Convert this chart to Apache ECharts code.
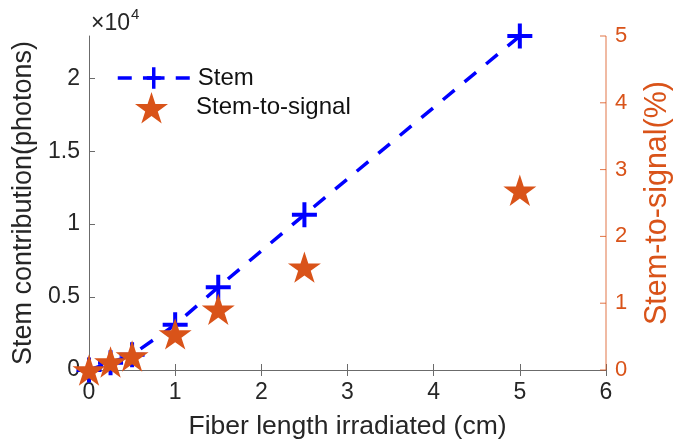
<!DOCTYPE html>
<html><head><meta charset="utf-8">
<script src="https://cdn.jsdelivr.net/npm/echarts@6/dist/echarts.min.js"></script>
<style>html,body{margin:0;padding:0;background:#fff}#c{width:673px;height:446px}</style>
</head><body><div id="c"></div>
<script>
// ---- data ----
const fiberLength = [0, 0.25, 0.5, 1, 1.5, 2.5, 5];
const stemPhotons = [0, 500, 1050, 3100, 5680, 10650, 22900];
const stemToSignal = [0, 0.12, 0.21, 0.54, 0.91, 1.54, 2.69];
const xTicks = [0, 1, 2, 3, 4, 5, 6];
const leftTicks = [0, 5000, 10000, 15000, 20000];
const rightTicks = [0, 1, 2, 3, 4, 5];
const seriesNames = ['Stem', 'Stem-to-signal'];

// ---- styles ----
const FONT = 'Liberation Sans, Arial, Helvetica, sans-serif';
const BLUE = '#0000FF';
const ORANGE = '#D95319';
const AXIS = '#6b6b6b';
const TXT = '#262626';
const PLUS = 'path://M-1.6,-10 L1.6,-10 L1.6,-1.6 L10,-1.6 L10,1.6 L1.6,1.6 L1.6,10 L-1.6,10 L-1.6,1.6 L-10,1.6 L-10,-1.6 L-1.6,-1.6 Z';
const STAR = 'path://M0,-10 L2.245,-3.09 L9.511,-3.09 L3.633,1.18 L5.878,8.09 L0,3.82 L-5.878,8.09 L-3.633,1.18 L-9.511,-3.09 L-2.245,-3.09 Z';

const leftMax = 22900;
const xMax = xTicks[xTicks.length - 1];
const rightMin = rightTicks[0];
const rightMax = rightTicks[rightTicks.length - 1];
const stemData = fiberLength.map((x, i) => [x, stemPhotons[i]]);
const ratioData = fiberLength.map((x, i) => [x, stemToSignal[i]]);
const rightTickData = rightTicks.map(v => [xMax, v]);
const rightLineData = [[xMax, rightMin], [xMax, rightMax]];

const chart = echarts.init(document.getElementById('c'), null, {renderer: 'canvas'});
chart.setOption({
  animation: false,
  backgroundColor: '#ffffff',
  grid: {left: 89, right: 67, top: 36, bottom: 76, containLabel: false, outerBoundsMode: 'none'},
  xAxis: [{
    type: 'value', position: 'bottom', min: xTicks[0], max: xMax, interval: 1,
    name: 'Fiber length irradiated (cm)', nameLocation: 'middle', nameGap: 43,
    nameTextStyle: {fontFamily: FONT, fontSize: 26.5, color: TXT},
    axisLine: {show: true, lineStyle: {color: AXIS, width: 1}},
    axisTick: {show: true, inside: true, length: 6, lineStyle: {color: AXIS}},
    axisLabel: {fontFamily: FONT, fontSize: 23, color: TXT, margin: 11},
    splitLine: {show: false}
  }, {
    type: 'value', position: 'top', min: xTicks[0], max: xMax, interval: 1,
    axisLine: {show: true, lineStyle: {color: AXIS, width: 1}},
    axisTick: {show: true, inside: true, length: 6, lineStyle: {color: AXIS}},
    axisLabel: {show: false},
    splitLine: {show: false}
  }],
  yAxis: [{
    type: 'value', position: 'left', min: leftTicks[0], max: leftMax, interval: 5000,
    name: 'Stem contribution(photons)', nameLocation: 'middle', nameGap: 50,
    nameTextStyle: {fontFamily: FONT, fontSize: 27, color: TXT},
    axisLine: {show: true, lineStyle: {color: AXIS, width: 1}},
    axisTick: {show: true, inside: true, length: 6, lineStyle: {color: AXIS},
      customValues: leftTicks},
    axisLabel: {fontFamily: FONT, fontSize: 23, color: TXT, margin: 9,
      customValues: leftTicks,
      formatter: v => leftTicks.indexOf(v) >= 0 ? String(v / 10000) : ''},
    splitLine: {show: false}
  }, {
    type: 'value', position: 'right', min: rightMin, max: rightMax, interval: 1,
    name: 'Stem-to-signal(%)', nameLocation: 'middle', nameGap: 36,
    nameTextStyle: {fontFamily: FONT, fontSize: 30.5, color: ORANGE},
    axisLine: {show: false},
    axisTick: {show: false},
    axisLabel: {fontFamily: FONT, fontSize: 22, color: ORANGE, margin: 9},
    splitLine: {show: false}
  }],
  legend: [{
    data: [seriesNames[0]], orient: 'vertical', left: 116, top: 66, padding: 0,
    itemWidth: 72, itemHeight: 27, itemGap: 0,
    textStyle: {fontFamily: FONT, fontSize: 24, color: '#111', padding: [0, 0, 0, 3]},
    lineStyle: {type: [14, 15], width: 3.5, color: BLUE}
  }, {
    data: [seriesNames[1]], orient: 'vertical', left: 135, top: 92, padding: 0,
    itemWidth: 33, itemHeight: 33, itemGap: 0,
    textStyle: {fontFamily: FONT, fontSize: 24, color: '#111', padding: [0, 0, 0, 23]}
  }],
  graphic: [{
    type: 'text', left: 91, top: 12,
    style: {text: '×10', font: '23px ' + FONT, fill: TXT}
  }, {
    type: 'text', left: 131, top: 7,
    style: {text: '4', font: '15px ' + FONT, fill: TXT}
  }],
  series: [{
    name: 'rightAxisLine', type: 'line', xAxisIndex: 0, yAxisIndex: 1,
    data: rightLineData, symbol: 'none', silent: true, clip: false, z: 1,
    lineStyle: {color: ORANGE, width: 1, opacity: 0.8}
  }, {
    name: 'rightTicks', type: 'custom', xAxisIndex: 0, yAxisIndex: 1,
    data: rightTickData, silent: true, clip: false, z: 1,
    renderItem: (params, api) => {
      const p = api.coord([api.value(0), api.value(1)]);
      return {type: 'line', shape: {x1: p[0] - 6, y1: p[1], x2: p[0], y2: p[1]},
        style: {stroke: ORANGE, lineWidth: 1, opacity: 0.8}};
    }
  }, {
    name: seriesNames[0], type: 'line', xAxisIndex: 0, yAxisIndex: 0,
    data: stemData, symbol: PLUS, symbolSize: 25, symbolKeepAspect: true,
    lineStyle: {color: BLUE, width: 3.5, type: [15, 13]},
    itemStyle: {color: BLUE}, z: 2
  }, {
    name: seriesNames[1], type: 'scatter', xAxisIndex: 0, yAxisIndex: 1,
    data: ratioData, symbol: STAR, symbolSize: 33, symbolKeepAspect: true,
    itemStyle: {color: ORANGE, opacity: 1}, z: 3
  }]
});
</script>
</body></html>
